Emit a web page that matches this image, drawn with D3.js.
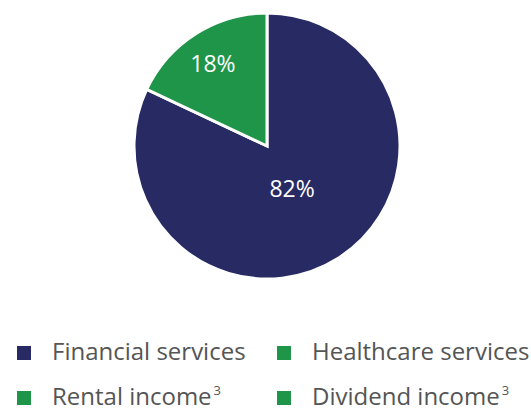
<!DOCTYPE html>
<meta charset="utf-8">
<script src="https://d3js.org/d3.v7.min.js"></script>
<style>
  body { margin: 0; background: #fff; }
  text { font-family: "Open Sans", sans-serif; }
</style>
<div id="vis"></div>
<script>

var width = 531,
    height = 410,
    radius = 133

// pie slices
var slices = ["Financial services", "Healthcare services"]
var shares = [82, 18]

// legend entries (superscript footnote marker kept separately)
var legendNames = ["Financial services", "Healthcare services", "Rental income", "Dividend income"]
var legendNotes = ["", "", "3", "3"]
var legendColors = ["#272a63", "#1e9548", "#1e9548", "#1e9548"]

var color = d3.scaleOrdinal()
  .domain(slices)
  .range(["#272a63", "#1e9548"])

var svg = d3.select("#vis")
  .append("svg")
    .attr("width", width)
    .attr("height", height)

var g = svg.append("g")
    .attr("transform", "translate(267,146)")

var pie = d3.pie()
  .sort(null)
  .value(function(d) { return d.value })

var data = pie(slices.map(function(k, i) { return {key: k, value: shares[i]} }))

var arc = d3.arc()
  .innerRadius(0)
  .outerRadius(radius)

g.selectAll("path")
  .data(data)
  .enter()
  .append("path")
    .attr("d", arc)
    .attr("fill", function(d) { return color(d.data.key) })
    .attr("stroke", "white")
    .style("stroke-width", "3px")
    .style("stroke-linejoin", "miter")

// small slices get their label pushed further out
function labelPos(d) {
  var r = d.data.value > 50 ? radius * 0.38 : radius * 0.73
  return d3.arc().innerRadius(r).outerRadius(r).centroid(d)
}

g.selectAll("text.pct")
  .data(data)
  .enter()
  .append("text")
    .attr("class", "pct")
    .attr("transform", function(d) { return "translate(" + labelPos(d) + ")" })
    .attr("dx", -2)
    .attr("dy", "0.35em")
    .attr("text-anchor", "middle")
    .attr("fill", "white")
    .style("font-size", "23px")
    .text(function(d) { return d.data.value + "%" })

// legend, two columns
var col = d3.scaleOrdinal().domain([0, 1]).range([17, 277])
var row = d3.scaleOrdinal().domain([0, 1]).range([360, 405])

var item = svg.selectAll("g.legend")
  .data(legendNames)
  .enter()
  .append("g")
    .attr("class", "legend")
    .attr("transform", function(d, i) { return "translate(" + col(i % 2) + "," + row(Math.floor(i / 2)) + ")" })

item.append("rect")
    .attr("x", 0)
    .attr("y", -14)
    .attr("width", 14)
    .attr("height", 14)
    .attr("fill", function(d, i) { return legendColors[i] })

var label = item.append("text")
    .attr("x", 35)
    .attr("y", 0)
    .attr("fill", "#555")
    .style("font-size", "24px")

label.append("tspan").text(function(d) { return d })
label.append("tspan")
    .attr("dx", 2)
    .attr("dy", -10)
    .style("font-size", "13px")
    .text(function(d, i) { return legendNotes[i] })

</script>
